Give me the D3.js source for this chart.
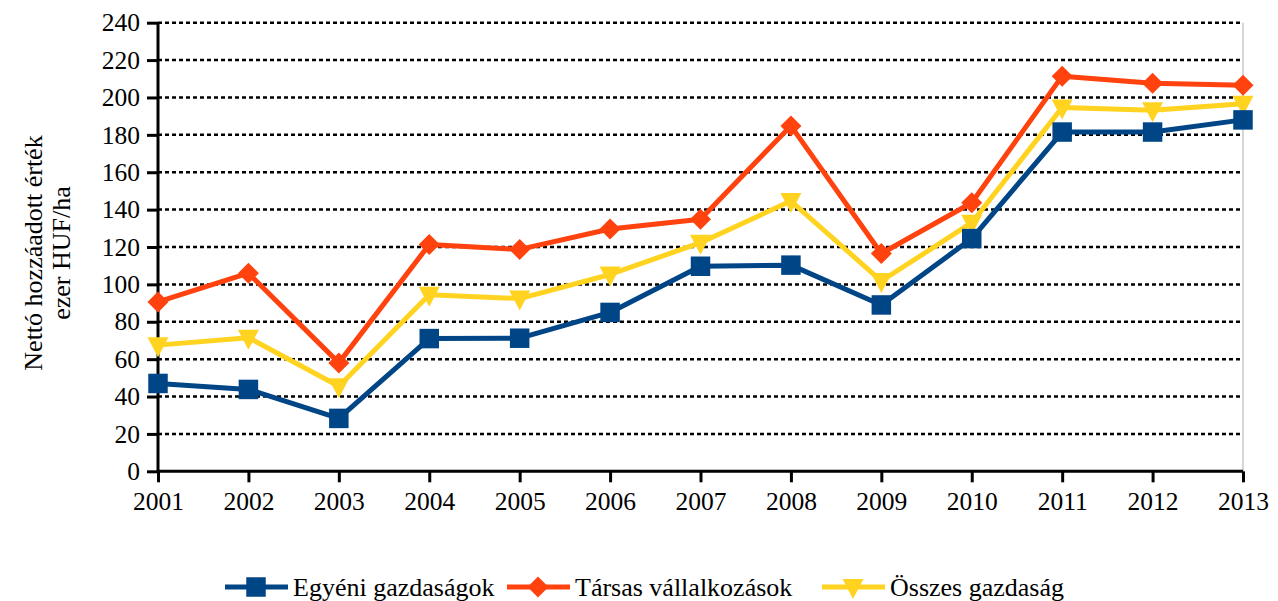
<!DOCTYPE html>
<html>
<head>
<meta charset="utf-8">
<script src="https://cdn.jsdelivr.net/npm/d3@7"></script>
<style>
  body { margin: 0; background: #fff; }
  svg text { font-family: 'Liberation Serif', 'Times New Roman', 'DejaVu Serif', serif !important; }
</style>
</head>
<body>
<div id="graph"></div>
<script>
const years = ["2001", "2002", "2003", "2004", "2005", "2006", "2007", "2008", "2009", "2010", "2011", "2012", "2013"];
const egyeni = [47, 43.8, 28.3, 71, 71.2, 85, 109.7, 110.3, 89, 124.5, 181.5, 181.5, 188];
const tarsas = [90.6, 106, 58, 121.3, 118.7, 129.6, 134.9, 184.8, 116.5, 143.7, 211.4, 207.6, 206.6];
const osszes = [67.5, 71.5, 45.5, 94.5, 92.4, 105.3, 122.3, 144.6, 101.8, 133, 194.6, 193.2, 196.6];
const yTicks = [0, 20, 40, 60, 80, 100, 120, 140, 160, 180, 200, 220, 240];
const seriesNames = ["Egyéni gazdaságok", "Társas vállalkozások", "Összes gazdaság"];
const colors = ["#004586", "#ff420e", "#ffd320"];
const symbols = ["square", "diamond", "triangle"];

const fontFamily = "'Liberation Serif', 'Times New Roman', 'DejaVu Serif', serif";
const tickFont = 25.5;
const labelFont = 26;

const margin = { top: 22.7, right: 35, bottom: 130, left: 158 };
const W = 1278, H = 601;
const width = 1243 - margin.left;
const height = 471.3 - margin.top;

const svg = d3.select("#graph").append("svg").attr("width", W).attr("height", H);

const x = d3.scalePoint().domain(years).range([0, width]);
const y = d3.scaleLinear().domain([0, 240]).range([height, 0]);

const chart = svg.append("g").attr("transform", `translate(${margin.left}, ${margin.top})`);

// grid lines
chart.append("g")
  .selectAll("line")
  .data(yTicks.filter(d => d > 0))
  .enter()
  .append("line")
  .attr("x1", 0)
  .attr("x2", width)
  .attr("y1", d => y(d))
  .attr("y2", d => y(d))
  .attr("stroke", "#000")
  .attr("stroke-width", 2.5)
  .attr("stroke-dasharray", "4,3");

// right border
chart.append("line")
  .attr("x1", width).attr("x2", width)
  .attr("y1", 0).attr("y2", height)
  .attr("stroke", "#c8c8c8")
  .attr("stroke-width", 1.5);

// axes
const yAxis = chart.append("g")
  .call(d3.axisLeft(y).tickValues(yTicks).tickSize(11).tickPadding(7));
const xAxis = chart.append("g")
  .attr("transform", `translate(0, ${height})`)
  .call(d3.axisBottom(x).tickSize(11).tickPadding(10));

[yAxis, xAxis].forEach(a => {
  a.attr("font-family", null).attr("font-size", null);
  a.select(".domain").attr("stroke", "#000").attr("stroke-width", 3);
  a.selectAll(".tick line").attr("stroke", "#000").attr("stroke-width", 3);
  a.selectAll(".tick text")
    .attr("fill", "#000")
    .style("font-size", tickFont + "px")
    .style("font-family", fontFamily);
});
yAxis.select(".domain").attr("d", `M0,${height}V0`);
xAxis.select(".domain").attr("d", `M0,0H${width}`);

// y axis label
const yLabel = svg.append("text")
  .attr("transform", "translate(33, 253) rotate(-90)")
  .attr("text-anchor", "middle")
  .style("font-size", labelFont + "px")
  .style("font-family", fontFamily)
  .attr("fill", "#000");
yLabel.append("tspan").attr("x", 0).attr("dy", "0.35em").text("Nettó hozzáadott érték");
yLabel.append("tspan").attr("x", 0).attr("dy", "1.08em").text("ezer HUF/ha");

const line = d3.line()
  .x((d, i) => x(years[i]))
  .y(d => y(d));

function symbolPath(kind) {
  if (kind === "square") return d3.symbol().type(d3.symbolSquare).size(380)();
  if (kind === "diamond") return "M0,-10.5L10.5,0L0,10.5L-10.5,0Z";
  return "M-10.5,-8L10.5,-8L0,12Z";
}

const allSeries = [egyeni, tarsas, osszes];
const drawOrder = [2, 1, 0];
drawOrder.forEach(k => {
  chart.append("path")
    .attr("d", line(allSeries[k]))
    .attr("fill", "none")
    .attr("stroke", colors[k])
    .attr("stroke-width", 5)
    .attr("stroke-linejoin", "round");
});
drawOrder.forEach(k => {
  chart.append("g")
    .selectAll("path")
    .data(allSeries[k])
    .enter()
    .append("path")
    .attr("transform", (d, i) => `translate(${x(years[i])}, ${y(d)})`)
    .attr("d", symbolPath(symbols[k]))
    .attr("fill", colors[k]);
});

// legend
const legendX = [225, 507, 822];
const legendY = 587;
const legend = svg.append("g");
seriesNames.forEach((name, k) => {
  const lg = legend.append("g").attr("transform", `translate(${legendX[k]}, ${legendY})`);
  lg.append("line")
    .attr("x1", 0).attr("x2", 63)
    .attr("y1", 0).attr("y2", 0)
    .attr("stroke", colors[k])
    .attr("stroke-width", 5);
  lg.append("path")
    .attr("transform", "translate(31, 0)")
    .attr("d", symbolPath(symbols[k]))
    .attr("fill", colors[k]);
  lg.append("text")
    .attr("x", 68)
    .attr("y", 0)
    .attr("dy", "0.35em")
    .style("font-size", labelFont + "px")
    .style("font-family", fontFamily)
    .attr("fill", "#000")
    .text(name);
});
</script>
</body>
</html>
